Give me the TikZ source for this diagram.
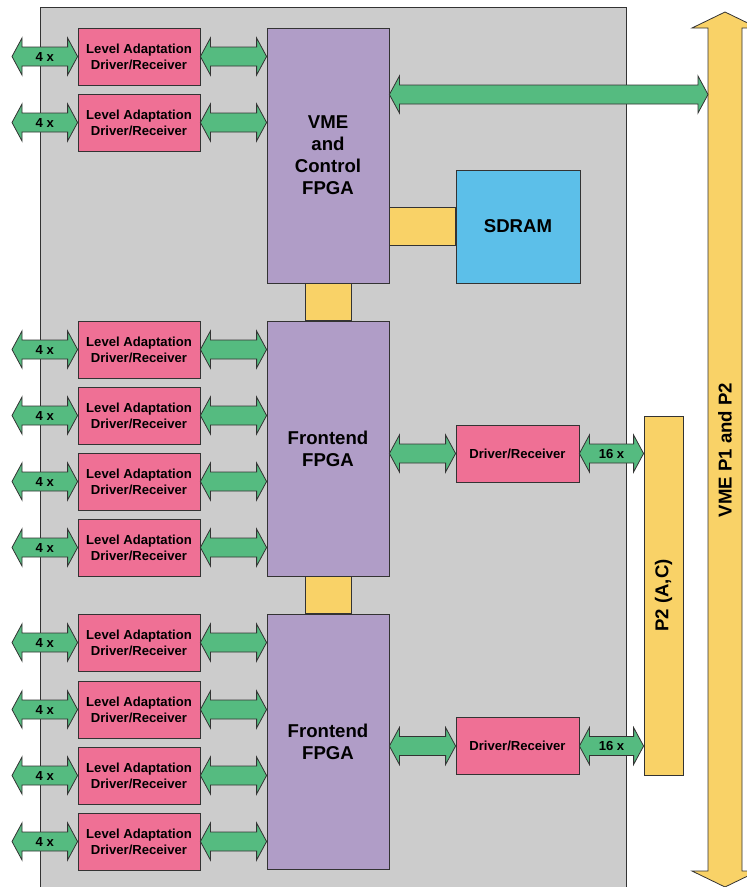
\documentclass[tikz,border=0pt]{standalone}
\usepackage{fontspec}
\setmainfont{Liberation Sans}
\usetikzlibrary{calc}
\definecolor{boardc}{HTML}{CCCCCC}
\definecolor{pinkc}{HTML}{EF7095}
\definecolor{purplec}{HTML}{B09DC7}
\definecolor{greenc}{HTML}{55BB80}
\definecolor{yellowc}{HTML}{F9D267}
\definecolor{bluec}{HTML}{5CBFE9}
\definecolor{linec}{HTML}{333333}
\newcommand{\fatarr}[3]{%
  \path[arr] let \p1=(#1), \p2=(#2) in
    (\x1,\y1) -- (\x1+10bp,\y1+18.5bp) -- (\x1+10bp,\y1+9.5bp) -- (\x2-10bp,\y1+9.5bp)
    -- (\x2-10bp,\y1+18.5bp) -- (\x2,\y1) -- (\x2-10bp,\y1-18.5bp) -- (\x2-10bp,\y1-9.5bp)
    -- (\x1+10bp,\y1-9.5bp) -- (\x1+10bp,\y1-18.5bp) -- cycle
    ({0.5*\x1+0.5*\x2},\y1) node[lbl] {#3};}
\begin{document}
\begin{tikzpicture}[x=1bp,y=-1bp,
  smallfont/.style={font=\bfseries\fontsize{13.1bp}{16bp}\selectfont},
  bigfont/.style={font=\bfseries\fontsize{18.6bp}{22bp}\selectfont},
  box/.style={draw=linec, line width=0.8bp, inner sep=0pt, align=center},
  lvl/.style={box, smallfont, fill=pinkc, minimum width=122bp, minimum height=57bp},
  drv/.style={box, smallfont, fill=pinkc, minimum width=123bp, minimum height=57bp},
  fpga/.style={box, bigfont, fill=purplec, minimum width=122bp, minimum height=255bp},
  bus/.style={draw=linec, line width=0.8bp, fill=yellowc},
  arr/.style={draw=linec, line width=0.8bp, fill=greenc},
  lbl/.style={smallfont, inner sep=0pt}]
\useasboundingbox (0,0) rectangle (747,887);
\clip (0,0) rectangle (747,887);
% board
\draw[draw=linec, line width=0.8bp, fill=boardc] (40,7) rectangle (626,900);
% FPGAs and memory
\node[fpga] (vme) at (328,155.5) {VME\\and\\Control\\FPGA};
\node[fpga] (fe1) at (328,448.5) {Frontend\\FPGA};
\node[fpga] (fe2) at (328,741.5) {Frontend\\FPGA};
\node[box, bigfont, fill=bluec, minimum width=124bp, minimum height=113bp] (sdram) at (518,226.5) {SDRAM};
% drivers
\node[drv] (dr1) at (517.5,453.5) {Driver/Receiver};
\node[drv] (dr2) at (517.5,746) {Driver/Receiver};
% P2 connector
\node[box, bigfont, fill=yellowc, minimum width=39bp, minimum height=359bp] (p2) at (663.5,595.5) {};
\node[bigfont, rotate=90, inner sep=0pt] (p2t) at (663.5,595.5) {P2 (A,C)};
% VME bus arrow
\draw[bus] (725,12) -- (758,28) -- (742,28) -- (742,871) -- (758,871) -- (725,887)
  -- (692,871) -- (708,871) -- (708,28) -- (692,28) -- cycle;
\node[bigfont, rotate=90, inner sep=0pt] (vmep) at (725,450) {VME P1 and P2};
\coordinate (vb) at (708,94.5);
\coordinate (vs) at (vme.east |- vb);
% yellow links
\draw[bus] ([xshift=-23bp]vme.south) rectangle ([xshift=23bp]fe1.north);
\draw[bus] ([xshift=-23bp]fe1.south) rectangle ([xshift=23bp]fe2.north);
\coordinate (m) at (vme.east |- sdram.west);
\draw[bus] ([yshift=19bp]m) rectangle ([yshift=-19bp]sdram.west);
% level adaptation boxes
\foreach \k/\yy in {1/56.5,2/122.5,3/349.5,4/415.5,5/481.5,6/547.5,7/642.5,8/709.5,9/775.5,10/841.5}{
  \node[lvl] (l\k) at (139,\yy) {Level Adaptation\\Driver/Receiver};
  \coordinate (e\k) at (12,\yy);
  \fatarr{e\k}{l\k.west}{4 x}
}
\foreach \k in {1,2}{\fatarr{l\k.east}{vme.west |- l\k.east}{}}
\foreach \k in {3,4,5,6}{\fatarr{l\k.east}{fe1.west |- l\k.east}{}}
\foreach \k in {7,8,9,10}{\fatarr{l\k.east}{fe2.west |- l\k.east}{}}
% other arrows
\fatarr{vs}{vb}{}
\fatarr{fe1.east |- dr1.west}{dr1.west}{}
\fatarr{fe2.east |- dr2.west}{dr2.west}{}
\fatarr{dr1.east}{p2.west |- dr1.east}{16 x}
\fatarr{dr2.east}{p2.west |- dr2.east}{16 x}
\end{tikzpicture}
\end{document}
